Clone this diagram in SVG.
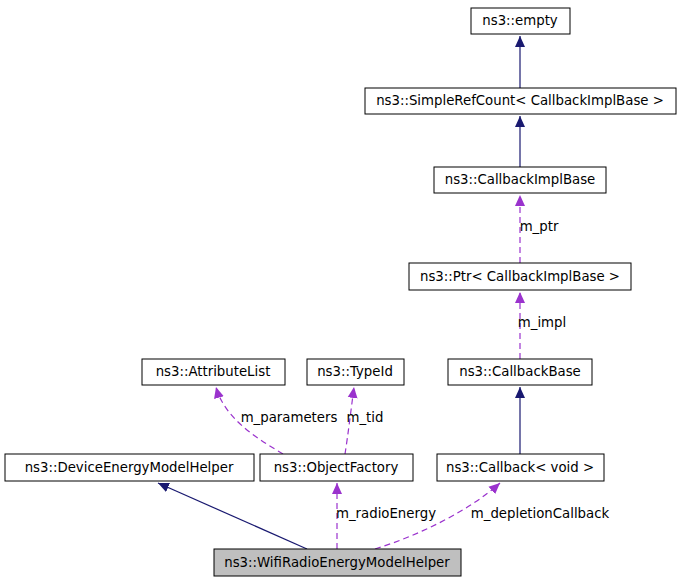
<svg xmlns="http://www.w3.org/2000/svg" width="680" height="584" viewBox="0 0 680 584">
<style>
.b{fill:#fff;stroke:#000;stroke-width:1}
text{font-family:"DejaVu Sans",sans-serif;font-size:13.3px;text-anchor:middle}
.s{fill:none;stroke:#191970;stroke-width:1.2}
.d{fill:none;stroke:#9a32cd;stroke-width:1.2;stroke-dasharray:6,4}
</style>
<defs>
<marker id="ab" markerWidth="12" markerHeight="12" refX="11" refY="6" orient="auto" markerUnits="userSpaceOnUse"><path d="M0,1 L11,6 L0,11 Z" fill="#191970"/></marker>
<marker id="ap" markerWidth="12" markerHeight="12" refX="11" refY="6" orient="auto" markerUnits="userSpaceOnUse"><path d="M0,1 L11,6 L0,11 Z" fill="#9a32cd"/></marker>
</defs>
<rect width="680" height="584" fill="#fff"/>
<g id="connectors">
<path class="s" d="M520,88 V36" marker-end="url(#ab)"/>
<path class="s" d="M520,167 V116" marker-end="url(#ab)"/>
<path class="d" d="M520,263 V195" marker-end="url(#ap)"/>
<path class="d" d="M520,359 V292" marker-end="url(#ap)"/>
<path class="s" d="M520,454 V387" marker-end="url(#ab)"/>
<path class="d" d="M283,454 C260,440 225,420 216,387" marker-end="url(#ap)"/>
<path class="d" d="M345,454 C348,435 351,410 354,387" marker-end="url(#ap)"/>
<path class="s" d="M307,549 L158,483" marker-end="url(#ab)"/>
<path class="d" d="M337,549 V483" marker-end="url(#ap)"/>
<path class="d" d="M375,549 C420,535 470,510 500,483" marker-end="url(#ap)"/>
<text x="539" y="231">m_ptr</text>
<text x="542" y="327">m_impl</text>
<text x="289" y="422">m_parameters</text>
<text x="365" y="422">m_tid</text>
<text x="386" y="518">m_radioEnergy</text>
<text x="540" y="518">m_depletionCallback</text>
</g>
<g id="empty"><rect class="b" x="471" y="8" width="99" height="26"/><text x="520" y="25">ns3::empty</text></g>
<g id="simplerefcount"><rect class="b" x="365" y="88" width="311" height="26"/><text x="520" y="105">ns3::SimpleRefCount&lt; CallbackImplBase &gt;</text></g>
<g id="callbackimplbase"><rect class="b" x="434" y="167" width="172" height="26"/><text x="520" y="184">ns3::CallbackImplBase</text></g>
<g id="ptr"><rect class="b" x="409" y="263" width="222" height="27"/><text x="520" y="281">ns3::Ptr&lt; CallbackImplBase &gt;</text></g>
<g id="callbackbase"><rect class="b" x="448" y="359" width="144" height="26"/><text x="520" y="376">ns3::CallbackBase</text></g>
<g id="callback"><rect class="b" x="437" y="454" width="167" height="27"/><text x="520" y="472">ns3::Callback&lt; void &gt;</text></g>
<g id="attributelist"><rect class="b" x="142" y="359" width="143" height="26"/><text x="213" y="376">ns3::AttributeList</text></g>
<g id="typeid"><rect class="b" x="307" y="359" width="97" height="26"/><text x="355" y="376">ns3::TypeId</text></g>
<g id="deviceenergymodelhelper"><rect class="b" x="5" y="454" width="249" height="27"/><text x="129" y="472">ns3::DeviceEnergyModelHelper</text></g>
<g id="objectfactory"><rect class="b" x="260" y="454" width="153" height="27"/><text x="336" y="472">ns3::ObjectFactory</text></g>
<g id="wifiradioenergymodelhelper"><rect x="214" y="549" width="247" height="27" fill="#bfbfbf" stroke="#000"/><text x="337" y="567">ns3::WifiRadioEnergyModelHelper</text></g>
</svg>
